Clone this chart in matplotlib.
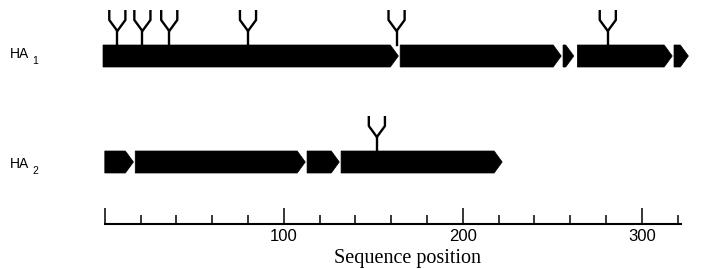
import numpy as np
import matplotlib.pyplot as plt
from matplotlib.patches import Polygon

# segments of each chain (residue numbers), pointed at the C-terminal end
ha1_start = [-1, 165, 256, 264, 318]
ha1_end = [164, 255, 262, 317, 326]
ha1_sites = [7, 21, 36, 80, 163, 281]

ha2_start = [0, 17, 113, 132]
ha2_end = [16, 112, 131, 222]
ha2_sites = [152]

axis_major = [0, 100, 200, 300]
axis_labels = ["", "100", "200", "300"]
axis_minor = np.arange(20, 321, 20)
axis_end = 322

# layout (y in pixels from the top)
px_per_res = 1.79
x0_px = 104.8
rows = {"HA1": 56, "HA2": 162}
label_base = {"HA1": 58, "HA2": 168}
half_h = 11
taper = 4.5

fig = plt.figure(figsize=(7.05, 2.69), dpi=100)
ax = fig.add_axes([0, 0, 1, 1])
xlim = (-x0_px / px_per_res, (705 - x0_px) / px_per_res)
ax.set_xlim(*xlim)
ax.set_ylim(269, 0)
ax.axis("off")


def draw_chain(starts, ends, sites, yc, yl, name, sub):
    for s, e in zip(starts, ends):
        t = min(taper, (e - s) * 0.8)
        pts = [(s, yc - half_h), (e - t, yc - half_h), (e, yc),
               (e - t, yc + half_h), (s, yc + half_h)]
        ax.add_patch(Polygon(pts, closed=True, fc="black", ec="black", lw=0.5))
    top = yc - half_h
    w = 4.5
    for x in sites:
        ax.plot([x - w, x - w, x, x + w, x + w], [top - 35, top - 25, top - 14, top - 25, top - 35],
                color="black", lw=1.7, solid_joinstyle="round", solid_capstyle="butt")
        ax.plot([x, x], [top - 14, top], color="black", lw=1.7)
    lx = -x0_px / px_per_res + 10 / px_per_res
    ax.text(lx, yl, name, fontsize=10, family="Liberation Sans", va="baseline", ha="left")
    ax.text(lx + 22 / px_per_res, yl + 6, sub, fontsize=7.5, family="Liberation Sans",
            va="baseline", ha="left")


draw_chain(ha1_start, ha1_end, ha1_sites, rows["HA1"], label_base["HA1"], "HA", "1")
draw_chain(ha2_start, ha2_end, ha2_sites, rows["HA2"], label_base["HA2"], "HA", "2")

# sequence position axis
ax2 = fig.add_axes([0, (269 - 224) / 269, 1, 0.1])
ax2.set_xlim(*xlim)
ax2.patch.set_visible(False)
for side in ["top", "left", "right"]:
    ax2.spines[side].set_visible(False)
ax2.spines["bottom"].set_bounds(0, axis_end)
ax2.spines["bottom"].set_linewidth(1.5)
ax2.set_yticks([])
ax2.set_xticks(axis_major)
ax2.set_xticklabels(axis_labels, family="Liberation Sans", fontsize=12)
ax2.set_xticks(axis_minor[axis_minor % 100 != 0], minor=True)
ax2.tick_params(axis="x", which="major", direction="in", length=11.5, width=1.1, pad=3.5)
ax2.tick_params(axis="x", which="minor", direction="in", length=6.5, width=1.1)

ax.text(169, 263, "Sequence position", family="Liberation Serif", fontsize=14.5,
        ha="center", va="baseline")

plt.savefig("out.png", dpi=100)
